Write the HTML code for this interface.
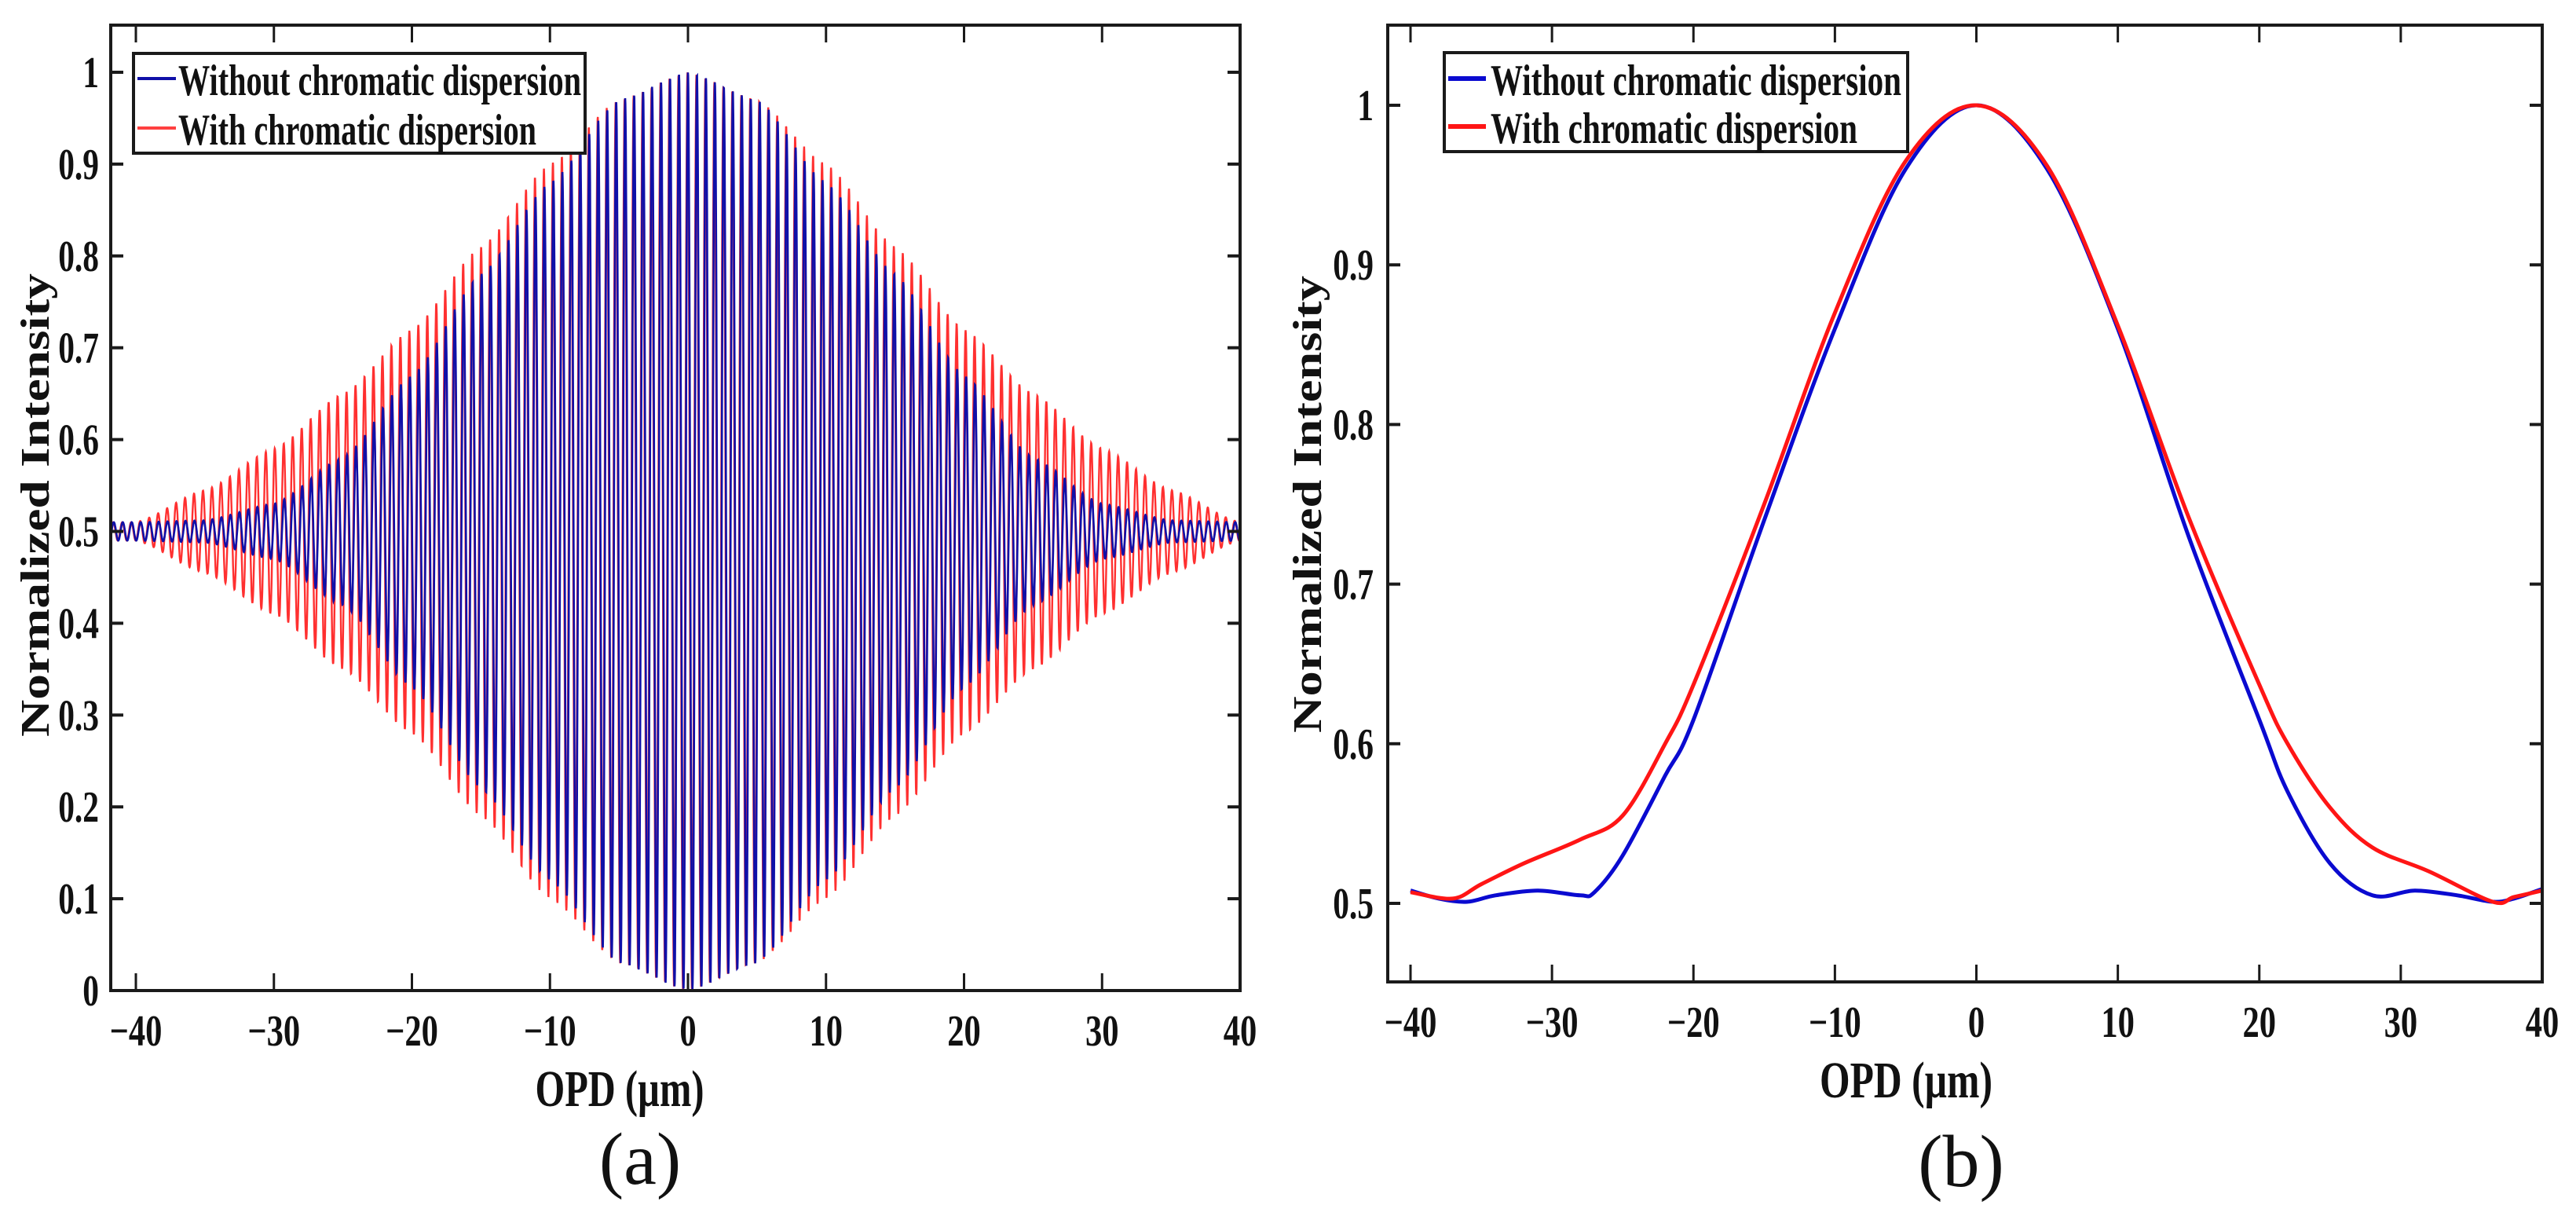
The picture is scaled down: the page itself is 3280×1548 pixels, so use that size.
<!DOCTYPE html>
<html><head><meta charset="utf-8"><style>
html,body{margin:0;padding:0;background:#fff;}
svg{display:block;}
text{font-family:"Liberation Serif",serif;}
</style></head><body>
<svg id="fig" width="3280" height="1548" viewBox="0 0 3280 1548" xmlns="http://www.w3.org/2000/svg">
<g id="pa"></g>
<g id="pb"></g>
</svg>
<script>
// ---- Panel (a) data: fringe envelope half-amplitudes ----
const envX = [-40,-35,-30,-25,-20,-15,-10,-5,0,5,10,15,20,25,30,35,40];
const envBlue = [0.01,0.012,0.03,0.08,0.17,0.28,0.38,0.47,0.5,0.47,0.38,0.28,0.17,0.08,0.03,0.012,0.01];
const envRed = [0.01,0.045,0.09,0.15,0.22,0.31,0.40,0.47,0.5,0.47,0.40,0.31,0.22,0.15,0.09,0.045,0.01];
const fringePeriod = 0.65; // µm
const redPhase = 0.35;      // rad
// ---- Panel (b) data ----
const bBlueX = [-40,-38,-36,-34,-31,-28,-27,-25,-22,-20,-15,-10,-5,0,5,10,15,20,22,25,28,31,34,36.5,38,40];
const bBlueY = [0.508,0.503,0.501,0.505,0.508,0.505,0.507,0.53,0.58,0.615,0.74,0.86,0.96,1.0,0.96,0.86,0.73,0.615,0.57,0.525,0.505,0.508,0.505,0.501,0.503,0.509];
const bRedX = [-40,-37,-35,-32,-28,-25,-22,-20,-15,-10,-5,0,5,10,15,20,22,25,28,32,36.5,38,40];
const bRedY = [0.507,0.503,0.512,0.525,0.54,0.555,0.6,0.637,0.75,0.87,0.965,1.0,0.962,0.862,0.742,0.637,0.6,0.56,0.535,0.52,0.501,0.504,0.508];
const xTicks = [-40,-30,-20,-10,0,10,20,30,40];
const xTickLabels = ["\u221240","\u221230","\u221220","\u221210","0","10","20","30","40"];
const aYTicks = [0,0.1,0.2,0.3,0.4,0.5,0.6,0.7,0.8,0.9,1];
const aYTickLabels = ["0","0.1","0.2","0.3","0.4","0.5","0.6","0.7","0.8","0.9","1"];
const bYTicks = [0.5,0.6,0.7,0.8,0.9,1];
const bYTickLabels = ["0.5","0.6","0.7","0.8","0.9","1"];

const NS="http://www.w3.org/2000/svg";
function el(tag,attrs,parent){const e=document.createElementNS(NS,tag);for(const k in attrs)e.setAttribute(k,attrs[k]);parent.appendChild(e);return e;}
function txt(parent,s,x,y,size,anchor,weight,sx,name){
  const t=el('text',{x:0,y:0,'font-size':size,'font-weight':weight,'text-anchor':anchor,fill:'#111',
    transform:'translate('+x+','+y+') scale('+sx+',1)'},parent);
  t.textContent=s;
  
  
  return t;
}
function interp(xs,ys,x){
  if(x<=xs[0])return ys[0];
  for(let i=1;i<xs.length;i++){if(x<=xs[i]){const t=(x-xs[i-1])/(xs[i]-xs[i-1]);const s=(1-Math.cos(Math.PI*t))/2;return ys[i-1]+(ys[i]-ys[i-1])*(0.5*t+0.5*s);}}
  return ys[ys.length-1];
}
function smoothPath(xs,ys,sx,sy){
  let d='';
  for(let i=0;i<xs.length;i++){
    const px=sx(xs[i]),py=sy(ys[i]);
    if(i===0){d='M'+px.toFixed(1)+','+py.toFixed(1);continue;}
    const x0=xs[Math.max(0,i-2)],y0=ys[Math.max(0,i-2)],x1=xs[i-1],y1=ys[i-1],x2=xs[i],y2=ys[i],x3=xs[Math.min(xs.length-1,i+1)],y3=ys[Math.min(xs.length-1,i+1)];
    const c1x=sx(x1+(x2-x0)/6),c1y=sy(y1+(y2-y0)/6),c2x=sx(x2-(x3-x1)/6),c2y=sy(y2-(y3-y1)/6);
    d+=' C'+c1x.toFixed(1)+','+c1y.toFixed(1)+' '+c2x.toFixed(1)+','+c2y.toFixed(1)+' '+px.toFixed(1)+','+py.toFixed(1);
  }
  return d;
}
function axesFrame(g,L,R,T,B,sx,sy,yt,ytl,ylabX,name){
  const ax=el('rect',{x:L,y:T,width:R-L,height:B-T,fill:'none',stroke:'#1a1a1a','stroke-width':4},g);
  
  
  xTicks.forEach((v,i)=>{
    const x=sx(v);
    el('line',{x1:x,y1:B,x2:x,y2:B-22,stroke:'#1a1a1a','stroke-width':3},g);
    el('line',{x1:x,y1:T,x2:x,y2:T+22,stroke:'#1a1a1a','stroke-width':3},g);
    txt(g,xTickLabels[i],x,B+70,56,'middle','bold',0.76,name+'-x-tick-label');
  });
  yt.forEach((v,i)=>{
    const y=sy(v);
    el('line',{x1:L,y1:y,x2:L+16,y2:y,stroke:'#1a1a1a','stroke-width':4},g);
    el('line',{x1:R,y1:y,x2:R-16,y2:y,stroke:'#1a1a1a','stroke-width':4},g);
    txt(g,ytl[i],ylabX,y+19,56,'end','bold',0.74,name+'-y-tick-label');
  });
}
function legend(g,x0,y0,w,h,lx1,lx2,tx,r1,r2,col1,col2,lw,tl1,tl2,name){
  const b=el('rect',{x:x0,y:y0,width:w,height:h,fill:'#fff',stroke:'#1a1a1a','stroke-width':4},g);
  
  
  el('line',{x1:lx1,y1:r1,x2:lx2,y2:r1,stroke:col1,'stroke-width':lw},g);
  el('line',{x1:lx1,y1:r2,x2:lx2,y2:r2,stroke:col2,'stroke-width':lw},g);
  const t1=el('text',{x:tx,y:r1+21,'font-size':56,'font-weight':'bold',fill:'#111',textLength:tl1,lengthAdjust:'spacingAndGlyphs'},g);
  t1.textContent='Without chromatic dispersion';
  
  
  const t2=el('text',{x:tx,y:r2+21,'font-size':56,'font-weight':'bold',fill:'#111',textLength:tl2,lengthAdjust:'spacingAndGlyphs'},g);
  t2.textContent='With chromatic dispersion';
  
  
}
function axisTitles(g,xlx,xly,xlw,yx,yy,ylw,pl,plx,ply,name){
  const a=el('text',{x:xlx,y:xly,'font-size':66,'font-weight':'bold','text-anchor':'middle',fill:'#111',textLength:xlw,lengthAdjust:'spacingAndGlyphs'},g);
  a.textContent='OPD (\u00b5m)';
  
  
  const b=el('text',{x:0,y:0,'font-size':52,'font-weight':'bold','text-anchor':'middle',fill:'#111',textLength:ylw,lengthAdjust:'spacingAndGlyphs',transform:'translate('+yx+','+yy+') rotate(-90)'},g);
  b.textContent='Normalized Intensity';
  
  
  const c=el('text',{x:plx,y:ply,'font-size':94,'text-anchor':'middle',fill:'#111'},g);
  c.textContent=pl;
  
  
}

// ===== Panel (a) =====
(function(){
  const g=document.getElementById('pa');
  const L=141,R=1579,T=32,B=1261;
  const sx=v=>173+(v+40)*(1579-173)/80;
  const sy=v=>B-v*(B-92);
  const xmin=-41.8,xmax=40;
  const n=5200;
  let db='',dr='';
  for(let i=0;i<=n;i++){
    const x=xmin+(xmax-xmin)*i/n;
    const ph=2*Math.PI*x/fringePeriod;
    const yb=0.5+interp(envX,envBlue,x)*Math.cos(ph);
    const yr=0.5+interp(envX,envRed,x)*Math.cos(ph+redPhase);
    db+=(i?'L':'M')+sx(x).toFixed(1)+','+sy(yb).toFixed(1);
    dr+=(i?'L':'M')+sx(x).toFixed(1)+','+sy(yr).toFixed(1);
  }
  const pr=el('path',{d:dr,fill:'none',stroke:'#ff3030','stroke-width':2.4},g);
  
  
  const pbl=el('path',{d:db,fill:'none',stroke:'#1010a8','stroke-width':2.6},g);
  
  
  axesFrame(g,L,R,T,B,sx,sy,aYTicks,aYTickLabels,126,'a');
  legend(g,170,68,575,127,175,224,227,100,163,'#1010a8','#ff4040',4,513,456,'a');
  axisTitles(g,789,1408,215,62,643,590,'(a)',815,1507,'a');
})();

// ===== Panel (b) =====
(function(){
  const g=document.getElementById('pb');
  const L=1767,R=3237,T=32,B=1250;
  const sx=v=>1796+(v+40)*(3237-1796)/80;
  const sy=v=>1150-(v-0.5)*(1150-134)/0.5;
  const p1=el('path',{d:smoothPath(bBlueX,bBlueY,sx,sy),fill:'none',stroke:'#0a0ad0','stroke-width':5},g);
  
  
  const p2=el('path',{d:smoothPath(bRedX,bRedY,sx,sy),fill:'none',stroke:'#ff1515','stroke-width':5},g);
  
  
  axesFrame(g,L,R,T,B,sx,sy,bYTicks,bYTickLabels,1749,'b');
  legend(g,1839,67,590,126,1844,1892,1898,100,161,'#0a0ad0','#ff1515',6,523,467,'b');
  axisTitles(g,2427,1397,220,1682,642,582,'(b)',2497,1510,'b');
})();
</script>
</body></html>
